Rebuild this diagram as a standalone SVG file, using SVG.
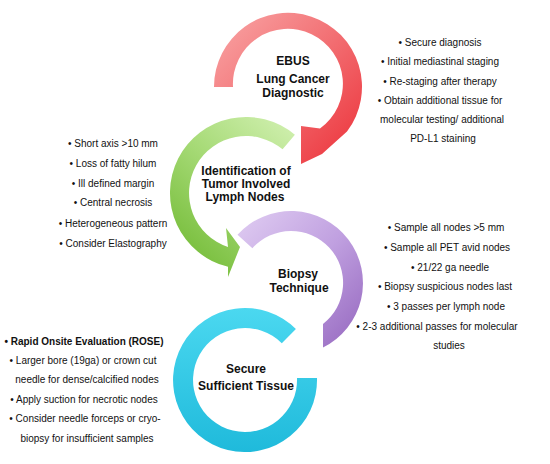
<svg xmlns="http://www.w3.org/2000/svg" width="550" height="464" viewBox="0 0 550 464">
<defs>
<linearGradient id="gRed" x1="0" y1="0" x2="1" y2="1"><stop offset="0" stop-color="#F9A7A7"/><stop offset="0.5" stop-color="#F26D71"/><stop offset="1" stop-color="#EC3038"/></linearGradient>
<linearGradient id="gGreen" x1="1" y1="0" x2="0.3" y2="1"><stop offset="0" stop-color="#D3F1B3"/><stop offset="0.5" stop-color="#A6DA76"/><stop offset="1" stop-color="#76BD3A"/></linearGradient>
<linearGradient id="gPurple" x1="0" y1="0" x2="1" y2="1"><stop offset="0" stop-color="#E0CDF2"/><stop offset="0.5" stop-color="#C0A0E0"/><stop offset="1" stop-color="#9466BE"/></linearGradient>
<linearGradient id="gCyan" x1="0.5" y1="0" x2="0.5" y2="1"><stop offset="0" stop-color="#4BD8F0"/><stop offset="1" stop-color="#1FBADB"/></linearGradient>
<style>
.title{font-family:"Liberation Sans",Arial,sans-serif;font-size:12px;font-weight:bold;fill:#111;text-anchor:middle}
.note{font-family:"Liberation Sans",Arial,sans-serif;font-size:10px;fill:#111;text-anchor:middle}
.bold{font-weight:bold}
</style>
</defs>
<rect width="550" height="464" fill="#fff"/>
<g id="connectors"></g>
<g id="cyan-node">
<path d="M 317 378 A 72 72 0 1 1 295.9 329.1 L 281.8 343.2 A 52 52 0 1 0 297 378 Z" fill="url(#gCyan)"/>
<text class="title" x="246" y="373">Secure</text>
<text class="title" x="246" y="390">Sufficient Tissue</text>
</g>
<g id="purple-node">
<path d="M 237.5 234.8 A 72 72 0 1 1 323 347.5 L 323 324 A 52 52 0 1 0 252.4 248.2 Z" fill="url(#gPurple)"/>
<text class="title" x="298" y="278">Biopsy</text>
<text class="title" x="299" y="292">Technique</text>
</g>
<g id="green-node">
<path d="M 294.9 134.8 A 76 76 0 1 0 228 266.8 L 228 277 L 240 247 L 226 228 L 228 247.1 A 57 57 0 1 1 282.6 149.3 Z" fill="url(#gGreen)"/>
<text class="title" x="246" y="175">Identification of</text>
<text class="title" x="246" y="188">Tumor Involved</text>
<text class="title" x="245" y="201">Lymph Nodes</text>
</g>
<g id="red-node">
<path d="M 214 87 A 74 74 0 1 1 347 131.5 L 322 154 L 301 164 L 301 126 L 320 128.5 A 55 55 0 1 0 233 87 Z" fill="url(#gRed)"/>
<text class="title" x="293" y="65">EBUS</text>
<text class="title" x="293" y="83">Lung Cancer</text>
<text class="title" x="293" y="97">Diagnostic</text>
</g>
<g id="notes-red">
<text class="note" x="440" y="46">• Secure diagnosis</text>
<text class="note" x="440" y="65">• Initial mediastinal staging</text>
<text class="note" x="440" y="84.5">• Re-staging after therapy</text>
<text class="note" x="440" y="104">• Obtain additional tissue for</text>
<text class="note" x="442" y="123">molecular testing/ additional</text>
<text class="note" x="443" y="142">PD-L1 staining</text>
</g>
<g id="notes-green">
<text class="note" x="113" y="147">• Short axis &gt;10 mm</text>
<text class="note" x="113" y="167">• Loss of fatty hilum</text>
<text class="note" x="113" y="186.5">• Ill defined margin</text>
<text class="note" x="113" y="206">• Central necrosis</text>
<text class="note" x="113" y="226.5">• Heterogeneous pattern</text>
<text class="note" x="113" y="246.5">• Consider Elastography</text>
</g>
<g id="notes-purple">
<text class="note" x="446" y="231">• Sample all nodes &gt;5 mm</text>
<text class="note" x="447" y="250.5">• Sample all PET avid nodes</text>
<text class="note" x="450" y="270.5">• 21/22 ga needle</text>
<text class="note" x="445" y="290">• Biopsy suspicious nodes last</text>
<text class="note" x="446" y="310">• 3 passes per lymph node</text>
<text class="note" x="437" y="330">• 2-3 additional passes for molecular</text>
<text class="note" x="449" y="349">studies</text>
</g>
<g id="notes-cyan">
<text class="note bold" x="84" y="344.5">• Rapid Onsite Evaluation (ROSE)</text>
<text class="note" x="83" y="364">• Larger bore (19ga) or crown cut</text>
<text class="note" x="87" y="383">needle for dense/calcified nodes</text>
<text class="note" x="84" y="402.5">• Apply suction for necrotic nodes</text>
<text class="note" x="85" y="422">• Consider needle forceps or cryo-</text>
<text class="note" x="87" y="441.5">biopsy for insufficient samples</text>
</g>
</svg>
